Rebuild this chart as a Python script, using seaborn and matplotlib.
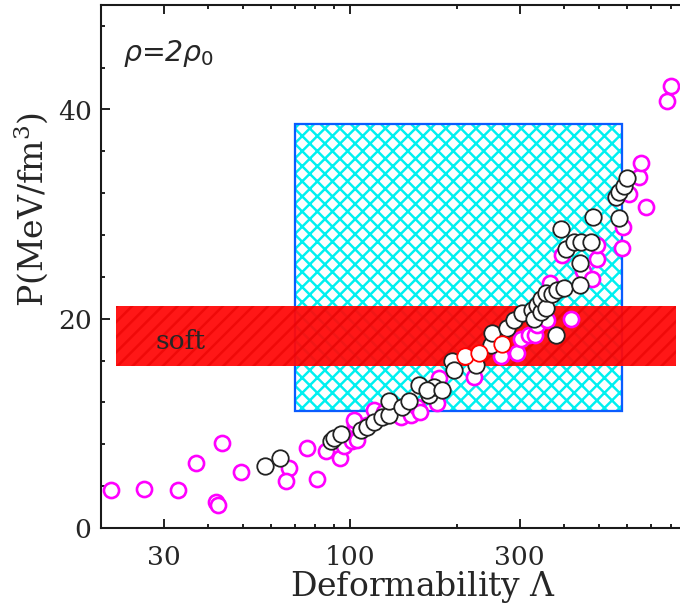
import matplotlib
matplotlib.use("Agg")
import matplotlib.pyplot as plt
from matplotlib.patches import Rectangle
from matplotlib.ticker import NullFormatter
import seaborn as sns

# ---- model sets: tidal deformability vs pressure at twice saturation density ----
magenta_lambda = [21.3, 26.5, 32.9, 37.0, 43.8, 42.0, 42.5, 49.5, 67.4, 66.0,
                  75.9, 81.0, 85.5, 93.7, 96.2, 101.6, 105.0, 103.7, 102.6, 111.4,
                  116.6, 124.6, 138.8, 148.1, 154.7, 157.9, 176.0, 177.8, 223.0, 265.0,
                  295.0, 302.0, 318.0, 332.0, 336.0, 358.0, 366.0, 419.0, 395.0, 453.0,
                  480.0, 495.0, 495.0, 582.0, 586.0, 681.0, 561.0, 608.0, 648.0, 658.0,
                  776.0, 796.0]
magenta_p = [3.6, 3.7, 3.6, 6.2, 8.1, 2.5, 2.2, 5.4, 5.7, 4.5,
             7.6, 4.7, 7.4, 6.7, 7.8, 8.3, 8.4, 9.8, 10.3, 9.8,
             11.3, 11.1, 10.6, 10.8, 11.6, 11.1, 11.9, 14.3, 14.4, 16.4,
             16.7, 18.1, 18.4, 18.4, 19.4, 19.9, 23.4, 20.0, 26.1, 24.6,
             23.8, 25.7, 27.0, 26.8, 28.8, 30.7, 31.6, 31.9, 33.5, 34.9,
             40.8, 42.2]

black_lambda = [57.6, 63.5, 88.5, 90.2, 94.2, 107.2, 111.9, 116.8, 123.3, 128.7,
                128.7, 140.4, 146.5, 156.2, 166.7, 172.2, 165.0, 181.8, 193.9, 196.0,
                225.5, 248.4, 251.2, 276.8, 288.9, 305.1, 325.4, 328.8, 336.0, 343.4,
                343.4, 354.6, 354.6, 370.3, 382.4, 399.2, 378.2, 442.7, 442.7, 403.6,
                425.8, 444.6, 474.4, 390.7, 482.8, 569.6, 557.6, 569.6, 588.4, 598.8]
black_p = [5.9, 6.7, 8.3, 8.6, 9.0, 9.4, 9.7, 10.1, 10.6, 10.8,
           12.1, 11.6, 12.1, 13.7, 12.7, 13.5, 13.2, 13.2, 16.0, 15.1,
           15.6, 17.5, 18.6, 19.1, 19.9, 20.5, 20.8, 20.0, 21.3, 20.6,
           21.9, 21.0, 22.5, 22.4, 22.7, 22.9, 18.4, 23.2, 25.3, 26.7,
           27.3, 27.3, 27.3, 28.6, 29.7, 29.6, 31.6, 32.1, 32.7, 33.4]

red_lambda = [211.3, 230.3, 268.0]
red_p = [16.4, 16.7, 17.6]

# constraint regions
box_lambda = (70.0, 580.0)
box_p = (11.2, 38.6)
soft_lambda = (22.0, 824.0)
soft_p = (15.5, 21.2)

x_major = [30, 100, 300]
x_major_labels = ["30", "100", "300"]
x_minor = [20, 40, 50, 60, 70, 80, 90, 200, 400, 500, 600, 700, 800, 900]
y_major = [0, 20, 40]
y_minor = [4, 8, 12, 16, 24, 28, 32, 36, 44, 48]

sns.set_theme(style="ticks")
plt.rcParams["font.family"] = ["DejaVu Serif"]
plt.rcParams["mathtext.fontset"] = "dejavuserif"
plt.rcParams["hatch.linewidth"] = 1.3

DPI = 136
fig = plt.figure(figsize=(680 / DPI, 607.4 / DPI), dpi=DPI)
ax = fig.add_axes([0.1485, 0.130, 0.8895, 0.8616])
ax.set_facecolor("white")
ax.set_xscale("log")

# cyan cross-hatched box with blue outline
ax.add_patch(Rectangle((box_lambda[0], box_p[0]), box_lambda[1] - box_lambda[0],
                       box_p[1] - box_p[0], facecolor="white", edgecolor="#00f0f0",
                       hatch="xxx", linewidth=0, zorder=1))
ax.add_patch(Rectangle((box_lambda[0], box_p[0]), box_lambda[1] - box_lambda[0],
                       box_p[1] - box_p[0], fill=False, edgecolor="#0a5cff",
                       linewidth=1.2, zorder=1.1))

# red "soft" band with faint hatching
ax.add_patch(Rectangle((soft_lambda[0], soft_p[0]), soft_lambda[1] - soft_lambda[0],
                       soft_p[1] - soft_p[0], facecolor="#ff0a0a", edgecolor="none",
                       linewidth=0, alpha=0.95, zorder=2))
ax.add_patch(Rectangle((soft_lambda[0], soft_p[0]), soft_lambda[1] - soft_lambda[0],
                       soft_p[1] - soft_p[0], facecolor="none", edgecolor="#e60000",
                       hatch="///", linewidth=0, alpha=0.6, zorder=2.1))

sns.scatterplot(x=magenta_lambda, y=magenta_p, ax=ax, marker="o", s=64,
                facecolor="white", edgecolor="#ff00ff", linewidth=1.4, zorder=3)
sns.scatterplot(x=black_lambda, y=black_p, ax=ax, marker="o", s=76,
                facecolor="white", edgecolor="#222222", linewidth=0.95, zorder=4)
sns.scatterplot(x=red_lambda, y=red_p, ax=ax, marker="o", s=76,
                facecolor="white", edgecolor="#ff0000", linewidth=0.95, zorder=5)

ax.set_xlim(20, 1000)
ax.set_ylim(0, 50)
ax.set_xticks(x_major, x_major_labels)
ax.set_xticks(x_minor, minor=True)
ax.xaxis.set_minor_formatter(NullFormatter())
ax.set_yticks(y_major, [str(v) for v in y_major])
ax.set_yticks(y_minor, minor=True)

ax.tick_params(which="both", direction="in", top=True, right=True,
               color="#1a1a1a", width=1.0, labelsize=14)
ax.tick_params(which="major", length=4.8)
ax.tick_params(which="minor", length=2.2)
ax.tick_params(axis="x", which="major", pad=9)
ax.tick_params(axis="y", which="major", pad=5)
for sp in ax.spines.values():
    sp.set_linewidth(1.1)
    sp.set_color("#1a1a1a")
    sp.set_visible(True)

ax.set_xlabel("Deformability $\\Lambda$", fontsize=17.5)
ax.set_ylabel("P(MeV/fm$^3$)", fontsize=17.5)
ax.xaxis.set_label_coords(0.532, -0.078)
ax.yaxis.set_label_coords(-0.085, 0.61)

ax.text(28.5, 17.9, "soft", fontsize=14, va="center", ha="left", zorder=6)
ax.text(23.1, 44.7, r"$\rho$=2$\rho_0$", fontsize=15, va="baseline", ha="left",
        family=["DejaVu Sans"], style="italic", math_fontfamily="dejavusans")

fig.savefig("out.png", dpi=DPI)
